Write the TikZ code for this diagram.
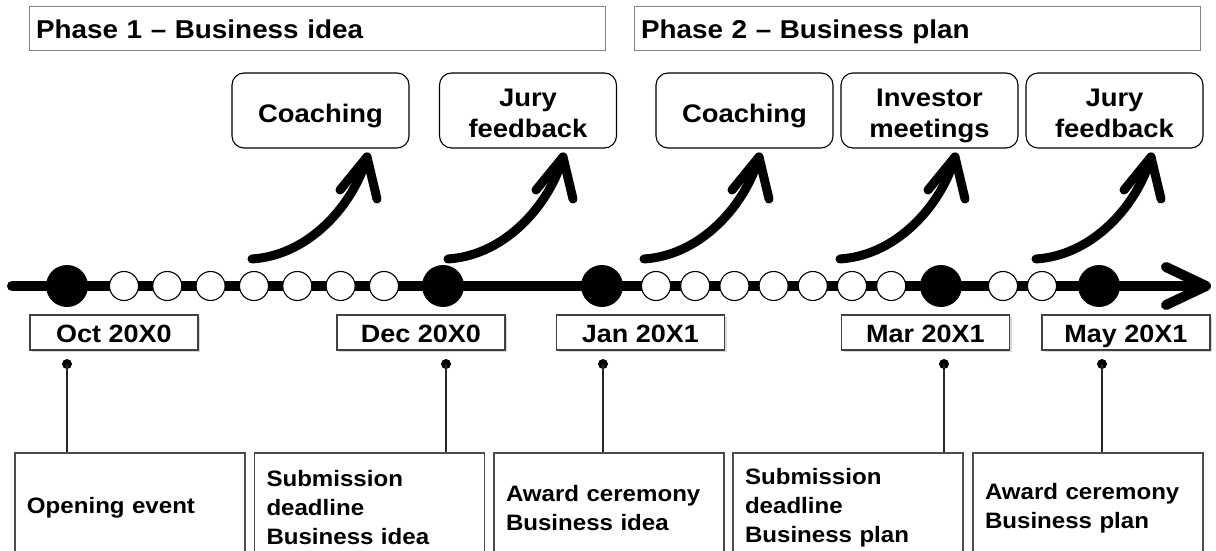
\documentclass[tikz,border=0pt]{standalone}
\usepackage{fontspec}
\setmainfont{Liberation Sans}[FakeStretch=1.08]
\usetikzlibrary{shadows}
\newcommand\boldsz[2]{\fontsize{#1}{#2}\selectfont\bfseries}

\begin{document}
\begin{tikzpicture}[x=1pt,y=-1pt,
  phasebox/.style={draw=black!50, line width=1pt, fill=white, minimum height=44pt,
    inner xsep=7pt, inner ysep=0pt, align=left, text height=19pt, text depth=0pt,
    font=\boldsz{25.8}{30}},
  topbox/.style={draw=black, line width=1.1pt, rounded corners=12pt, fill=white,
    minimum width=177pt, minimum height=75pt, text width=165pt, align=center,
    inner xsep=6pt, inner ysep=0pt, font=\boldsz{25.4}{31},
    execute at begin node={\rule{0pt}{29pt}},
    execute at end node={\rule[-6pt]{0pt}{6pt}}},
  datebox/.style={draw=black!75, line width=1.1pt, fill=white, minimum width=168pt,
    minimum height=35pt, inner sep=0pt, text height=19pt, text depth=0pt,
    font=\boldsz{25}{29},
    drop shadow={shadow xshift=2pt, shadow yshift=-2pt, fill=black!15, opacity=1}},
  eventbox/.style={draw=black!70, line width=1.4pt, fill=white, minimum height=110pt,
    inner xsep=12pt, text width=206pt, align=left, font=\boldsz{22.3}{29}},
  bigdot/.style={circle, fill=black, minimum size=42pt, inner sep=0pt},
  smalldot/.style={circle, draw=black, line width=1.1pt, fill=white, minimum size=29pt, inner sep=0pt},
  pin/.style={circle, fill=black, minimum size=10pt, inner sep=0pt},
  pinline/.style={draw=black!85, line width=1.4pt},
  timeline/.style={line width=10pt, line cap=round, line join=round},
  bendarrow/.style={line width=9pt, line cap=round, line join=round},
]
\useasboundingbox (0,0) rectangle (1216,551);
\clip (0,0) rectangle (1216,551);
\fill[white] (0,0) rectangle (1216,551);

% phase headers
\node[phasebox, text width=562pt] (ph1) at (317,29) {Phase 1 – Business idea};
\node[phasebox, text width=552pt] (ph2) at (917,29) {Phase 2 – Business plan};

% activity boxes above the timeline
\node[topbox] (tb1) at (320.5,110.5) {Coaching};
\node[topbox] (tb2) at (528,110.5) {Jury\\feedback};
\node[topbox] (tb3) at (744.5,110.5) {Coaching};
\node[topbox] (tb4) at (929.5,110.5) {Investor\\meetings};
\node[topbox] (tb5) at (1114.5,110.5) {Jury\\feedback};

% timeline axis with open arrowhead
\coordinate (tl0) at (12,286);
\coordinate (tl1) at (1206,286);
\draw[timeline] (tl0) -- ([xshift=-4pt]tl1);
\draw[timeline] ([shift={(-40,-19)}]tl1) -- (tl1) -- ([shift={(-40,19)}]tl1);

% milestones and intermediate steps
\foreach \n/\x in {m1/67, m2/443, m3/602, m4/941, m5/1099}
  \node[bigdot] (\n) at (\x,286) {};
\foreach \x [count=\i] in {124,167.3,210.6,254,297.3,340.6,384,
                           656,695.2,734.4,773.6,812.8,852,891.2,
                           1003,1042}
  \node[smalldot] (w\i) at (\x,286) {};

% curved arrows rising from the timeline
\foreach \x [count=\i] in {252,448,644,840,1036} {
  \coordinate (a\i) at (\x,259);
  \coordinate (t\i) at ([shift={(115,-102)}]a\i);
  \draw[bendarrow] (a\i) .. controls ([shift={(60,-4)}]a\i) and ([shift={(103,-58)}]a\i) .. (t\i);
  \draw[bendarrow] ([shift={(-27,33)}]t\i) -- (t\i) -- ([shift={(10,42)}]t\i);
}

% date labels
\node[datebox] (d1) at (114,332.5) {Oct 20X0};
\node[datebox] (d2) at (421,332.5) {Dec 20X0};
\node[datebox] (d3) at (640.5,332.5) {Jan 20X1};
\node[datebox] (d4) at (925.5,332.5) {Mar 20X1};
\node[datebox] (d5) at (1126,332.5) {May 20X1};

% event descriptions
\node[eventbox] (e1) at (130,508) {Opening event};
\node[eventbox] (e2) at (369.5,508) {Submission\\deadline\\Business idea};
\node[eventbox] (e3) at (609,508) {Award ceremony\\Business idea};
\node[eventbox] (e4) at (848,508) {Submission\\deadline\\Business plan};
\node[eventbox] (e5) at (1088,508) {Award ceremony\\Business plan};

% pins linking dates to events
\foreach \n/\x/\e in {p1/67/e1, p2/446/e2, p3/603/e3, p4/944/e4, p5/1102/e5} {
  \node[pin] (\n) at (\x,364) {};
  \draw[pinline] (\n.center) -- (\n.center |- \e.north);
}
\end{tikzpicture}
\end{document}
